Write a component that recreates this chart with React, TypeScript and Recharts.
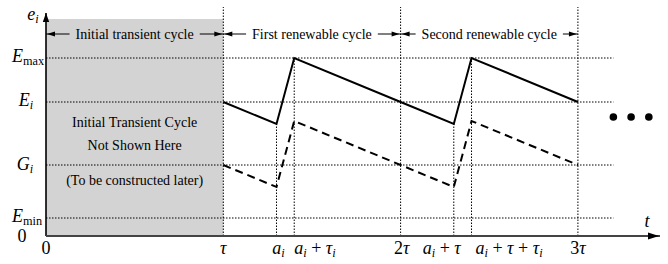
import React from 'react';
import {
  ComposedChart,
  Line,
  XAxis,
  YAxis,
  ReferenceLine,
  ReferenceArea,
  ReferenceDot,
} from 'recharts';

// ---------------- data ----------------
const timePoints = [1, 1.3, 1.4, 2, 2.3, 2.4, 3];
const energyValues = [134, 112, 178, 134, 112, 178, 134];
const gValues = [71, 49, 115, 71, 49, 115, 71];

const xTickValues = [0, 1, 1.3, 1.4, 2, 2.3, 2.4, 3];
const xTickLabels = ['0', 'τ', 'a_i', 'a_i + τ_i', '2τ', 'a_i + τ', 'a_i + τ + τ_i', '3τ'];

const yTickValues = [0, 18, 71, 134, 178, 222];
const yTickLabels = ['0', 'E_{min}', 'G_i', 'E_i', 'E_{max}', 'e_i'];

const levelValues = [18, 71, 134, 178];
const levelEnd = 3.2;
const periodMarks = [1, 2, 3];
const periodTop = 229;
const onTimes = [1.3, 2.3];
const onTop = 112;
const offTimes = [1.4, 2.4];
const offTop = 178;

const transientEnd = 1;
const transientTop = 217;

const cycleLabels = ['Initial transient cycle', 'First renewable cycle', 'Second renewable cycle'];
const cycleStarts = [0, 1, 2];
const cycleEnds = [1, 2, 3];
const cycleLevel = 202;

const boxLines = ['Initial Transient Cycle', 'Not Shown Here', '(To be constructed later)'];
const boxLineLevels = [109, 86, 51];
const boxCenter = 0.5;

const ellipsisTimes = [3.2, 3.3, 3.4];
const ellipsisLevel = 119;

const axisTop = 223;
const tLabel = 't';
const tLabelPos = { t: 3.39, v: 9 };

// ---------------- layout / style ----------------
const W = 668;
const H = 264;
const M = { top: 6, right: 8, bottom: 0, left: 0 };
const Y_AXIS_W = 46;
const X_AXIS_H = 28;
const X_MAX = 3.463;
const Y_MAX = 230;
const PLOT_W = W - M.left - M.right - Y_AXIS_W;
const UNIT = PLOT_W / X_MAX;

const SERIF = "'Liberation Serif', 'Times New Roman', 'DejaVu Serif', serif";
const MATH_SIZE = 18;
const TEXT_SIZE = 14;
const DOT = '1.5 1.5';

const xAnchors = ['middle', 'middle', 'middle', 'start', 'middle', 'end', 'start', 'middle'];
const xShift = [0, 0, 2, 0, 1, 7, 4, 0];
const yShift = [-24, -19, -21, -20, -18, -13];
const yBase = [6, 4, 5, 4, 4, 6];

type Part = { text: string; sub: boolean; italic: boolean };
function parseMath(s: string): Part[] {
  const parts: Part[] = [];
  let i = 0;
  while (i < s.length) {
    const c = s[i];
    if (c === '_') {
      let sub: string;
      if (s[i + 1] === '{') {
        const j = s.indexOf('}', i);
        sub = s.slice(i + 2, j);
        i = j + 1;
      } else {
        sub = s[i + 1];
        i += 2;
      }
      parts.push({ text: sub, sub: true, italic: sub.length === 1 });
    } else {
      const italic = /[A-Za-zτ]/.test(c);
      const last = parts[parts.length - 1];
      if (last && !last.sub && last.italic === italic) last.text += c;
      else parts.push({ text: c, sub: false, italic });
      i++;
    }
  }
  return parts;
}

function MathText({ x, y, label, anchor = 'middle', size = MATH_SIZE }: any) {
  const parts = parseMath(label);
  let offset = 0;
  return (
    <text
      x={x}
      y={y}
      textAnchor={anchor}
      fontFamily={SERIF}
      fontSize={size}
      fill="#000"
      style={{ whiteSpace: 'pre' }}
    >
      {parts.map((p, k) => {
        const target = p.sub ? size * 0.18 : 0;
        const dy = target - offset;
        offset = target;
        return (
          <tspan
            key={k}
            dy={dy}
            fontStyle={p.italic ? 'italic' : 'normal'}
            fontSize={p.sub ? size * 0.68 : size}
          >
            {p.text}
          </tspan>
        );
      })}
    </text>
  );
}

function XTick(props: any) {
  const { x, y, payload } = props;
  const idx = xTickValues.indexOf(payload.value);
  if (idx < 0) return null;
  return (
    <MathText x={x + xShift[idx]} y={y + 18} label={xTickLabels[idx]} anchor={xAnchors[idx]} />
  );
}

function YTick(props: any) {
  const { x, y, payload } = props;
  const idx = yTickValues.indexOf(payload.value);
  if (idx < 0) return null;
  return <MathText x={x + yShift[idx]} y={y + yBase[idx]} label={yTickLabels[idx]} anchor="middle" />;
}

let ctx: CanvasRenderingContext2D | null = null;
function textWidth(s: string, size: number) {
  try {
    if (!ctx) ctx = document.createElement('canvas').getContext('2d');
    if (ctx) {
      ctx.font = `${size}px 'Liberation Serif'`;
      return ctx.measureText(s).width;
    }
  } catch (e) {}
  return s.length * size * 0.42;
}

const arrowHead = (dir: 'left' | 'right' | 'up', len = 8, half = 2.5) => (p: any) => {
  const { cx, cy } = p;
  let pts = '';
  if (dir === 'left') pts = `${cx + 1},${cy} ${cx + 1 + len},${cy - half} ${cx + 1 + len},${cy + half}`;
  if (dir === 'right') pts = `${cx - 1},${cy} ${cx - 1 - len},${cy - half} ${cx - 1 - len},${cy + half}`;
  if (dir === 'up') pts = `${cx},${cy} ${cx - half},${cy + len} ${cx + half},${cy + len}`;
  return <polygon points={pts} fill="#000" stroke="none" />;
};

const plainText = (label: string, size: number, dy = 0) => (p: any) => (
  <text
    x={p.cx}
    y={p.cy + dy}
    textAnchor="middle"
    fontFamily={SERIF}
    fontSize={size}
    fill="#000"
  >
    {label}
  </text>
);

const mathShape = (label: string) => (p: any) => <MathText x={p.cx} y={p.cy} label={label} />;

const dotShape = (p: any) => <circle cx={p.cx} cy={p.cy} r={3.8} fill="#000" />;

export default function App() {
  const rows = timePoints.map((t, i) => ({ t, e: energyValues[i], g: gValues[i] }));
  const GAP = 6;

  return (
    <div style={{ position: 'absolute', left: 0, top: 0 }}>
      <ComposedChart width={W} height={H} data={rows} margin={M}>
        <XAxis
          dataKey="t"
          type="number"
          domain={[0, X_MAX]}
          ticks={xTickValues}
          interval={0}
          tickLine={false}
          tickSize={0}
          tickMargin={0}
          height={X_AXIS_H}
          axisLine={{ stroke: '#444', strokeWidth: 2 }}
          tick={<XTick />}
          allowDataOverflow
        />
        <YAxis
          type="number"
          domain={[0, Y_MAX]}
          ticks={yTickValues}
          interval={0}
          tickLine={false}
          tickSize={0}
          tickMargin={0}
          width={Y_AXIS_W}
          axisLine={false}
          tick={<YTick />}
          allowDataOverflow
        />
        <ReferenceArea
          x1={0}
          x2={transientEnd}
          y1={0}
          y2={transientTop}
          fill="#d3d3d3"
          fillOpacity={1}
          stroke="none"
        />
        {levelValues.map((v) => (
          <ReferenceLine
            key={'h' + v}
            segment={[{ x: 0, y: v }, { x: levelEnd, y: v }]}
            stroke="#000"
            strokeWidth={1}
            strokeDasharray={DOT}
          />
        ))}
        {periodMarks.map((t) => (
          <ReferenceLine
            key={'p' + t}
            segment={[{ x: t, y: 0 }, { x: t, y: periodTop }]}
            stroke="#000"
            strokeWidth={1}
            strokeDasharray={DOT}
          />
        ))}
        {onTimes.map((t) => (
          <ReferenceLine
            key={'on' + t}
            segment={[{ x: t, y: 0 }, { x: t, y: onTop }]}
            stroke="#000"
            strokeWidth={1}
            strokeDasharray={DOT}
          />
        ))}
        {offTimes.map((t) => (
          <ReferenceLine
            key={'off' + t}
            segment={[{ x: t, y: 0 }, { x: t, y: offTop }]}
            stroke="#000"
            strokeWidth={1}
            strokeDasharray={DOT}
          />
        ))}
        <ReferenceLine
          segment={[{ x: 0, y: 0 }, { x: 0, y: axisTop }]}
          stroke="#000"
          strokeWidth={1.6}
        />
        <ReferenceDot x={0} y={axisTop} shape={arrowHead('up', 9, 3.2)} />
        <ReferenceDot x={X_MAX} y={0} shape={arrowHead('right', 11, 3.5)} />

        {cycleLabels.map((label, k) => {
          const from = cycleStarts[k];
          const to = cycleEnds[k];
          const c = (from + to) / 2;
          const half = (textWidth(label, TEXT_SIZE) / 2 + GAP) / UNIT;
          return (
            <React.Fragment key={'c' + k}>
              <ReferenceLine
                segment={[{ x: from, y: cycleLevel }, { x: c - half, y: cycleLevel }]}
                stroke="#000"
                strokeWidth={1}
              />
              <ReferenceLine
                segment={[{ x: c + half, y: cycleLevel }, { x: to, y: cycleLevel }]}
                stroke="#000"
                strokeWidth={1}
              />
              <ReferenceDot x={from} y={cycleLevel} shape={arrowHead('left')} />
              <ReferenceDot x={to} y={cycleLevel} shape={arrowHead('right')} />
              <ReferenceDot x={c} y={cycleLevel} shape={plainText(label, TEXT_SIZE, 4.8)} />
            </React.Fragment>
          );
        })}

        {boxLines.map((label, k) => (
          <ReferenceDot
            key={'b' + k}
            x={boxCenter}
            y={boxLineLevels[k]}
            shape={plainText(label, TEXT_SIZE)}
          />
        ))}

        {ellipsisTimes.map((t) => (
          <ReferenceDot key={'d' + t} x={t} y={ellipsisLevel} shape={dotShape} />
        ))}

        <ReferenceDot x={tLabelPos.t} y={tLabelPos.v} shape={mathShape(tLabel)} />

        <Line
          dataKey="e"
          type="linear"
          stroke="#000"
          strokeWidth={2}
          dot={false}
          activeDot={false}
          isAnimationActive={false}
        />
        <Line
          dataKey="g"
          type="linear"
          stroke="#000"
          strokeWidth={2}
          strokeDasharray="8 5"
          dot={false}
          activeDot={false}
          isAnimationActive={false}
        />
      </ComposedChart>
    </div>
  );
}
